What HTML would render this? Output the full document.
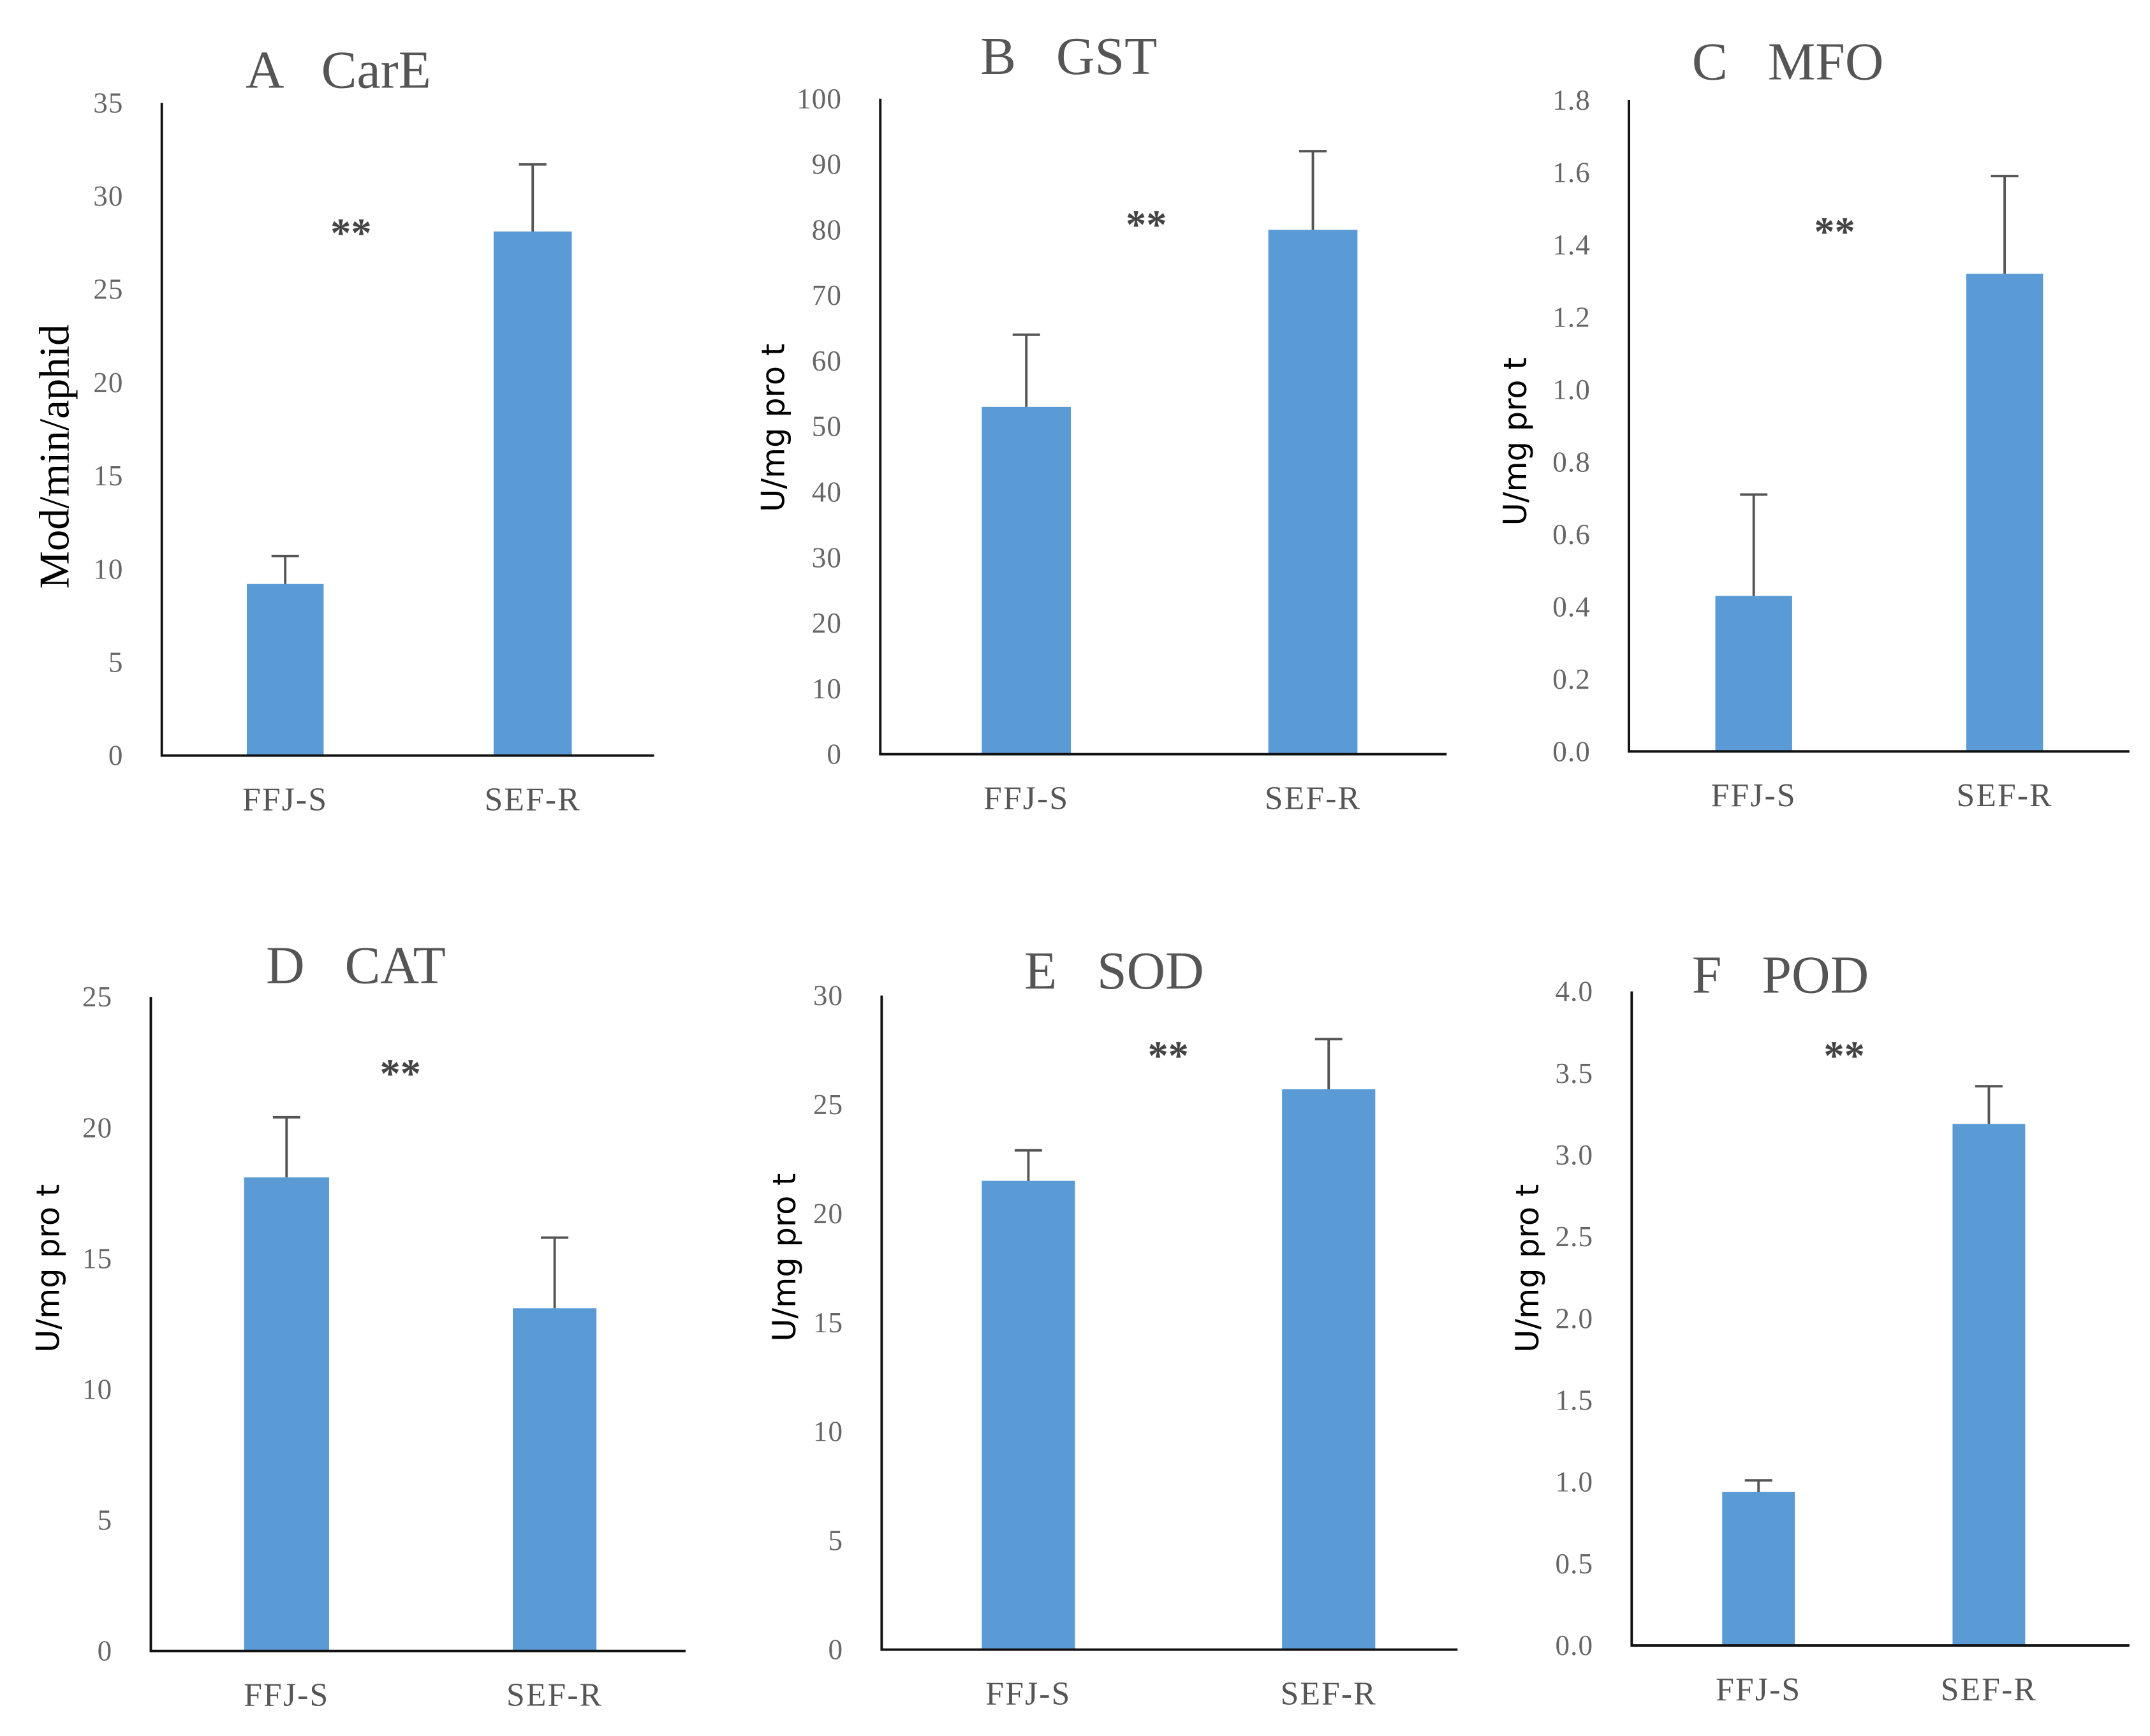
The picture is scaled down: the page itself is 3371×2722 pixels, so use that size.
<!DOCTYPE html>
<html><head><meta charset="utf-8"><style>
html,body{margin:0;padding:0;background:#fff;}
svg{display:block;}
text{white-space:pre;}
</style></head><body>
<svg id="fig" width="3371" height="2722" viewBox="0 0 1568 1266" preserveAspectRatio="none" xmlns="http://www.w3.org/2000/svg"></svg>
<script>
const categories = ["FFJ-S", "SEF-R"];
const titles = ["A   CarE", "B   GST", "C   MFO", "D   CAT", "E   SOD", "F   POD"];
const yLabels = ["Mod/min/aphid", "U/mg pro t", "U/mg pro t", "U/mg pro t", "U/mg pro t", "U/mg pro t"];
const yMaxes = [35, 100, 1.8, 25, 30, 4.0];
const yStepsArr = [5, 10, 0.2, 5, 5, 0.5];
const tickDecimals = [0, 0, 1, 0, 0, 1];
const valuesA = [9.2, 28.1];
const errorsA = [10.7, 31.7];
const valuesB = [53, 80];
const errorsB = [64, 92];
const valuesC = [0.43, 1.32];
const errorsC = [0.71, 1.59];
const valuesD = [18.1, 13.1];
const errorsD = [20.4, 15.8];
const valuesE = [21.5, 25.7];
const errorsE = [22.9, 28.0];
const valuesF = [0.94, 3.19];
const errorsF = [1.01, 3.42];
const sigMarks = ["**", "**", "**", "**", "**", "**"];

const allValues = [valuesA, valuesB, valuesC, valuesD, valuesE, valuesF];
const allErrors = [errorsA, errorsB, errorsC, errorsD, errorsE, errorsF];

const layouts = [
  {ax:118, top:75, bot:551, right:477, bars:[[180,236],[360,417]], tx:179, ty:64, sx:256, sy:180, lx:50, ly:333, serifLabel:true},
  {ax:642, top:72, bot:550, right:1055, bars:[[716,781],[925,990]], tx:715, ty:54, sx:836, sy:174, lx:572, ly:312},
  {ax:1188, top:73, bot:548, right:1553, bars:[[1251,1307],[1434,1490]], tx:1234, ty:58, sx:1338, sy:179, lx:1113, ly:322},
  {ax:110, top:727, bot:1204, right:500, bars:[[178,240],[374,435]], tx:194, ty:717, sx:292, sy:793, lx:43, ly:925},
  {ax:643, top:726, bot:1203, right:1063, bars:[[716,784],[935,1003]], tx:747, ty:721, sx:852, sy:780, lx:580, ly:917},
  {ax:1190, top:723, bot:1200, right:1553, bars:[[1256,1309],[1424,1477]], tx:1234, ty:724, sx:1345, sy:780, lx:1122, ly:925}
];
const NS = "http://www.w3.org/2000/svg";
const svg = document.getElementById("fig");
function mk(tag, attrs, parent){
  const e = document.createElementNS(NS, tag);
  for (const k in attrs) e.setAttribute(k, attrs[k]);
  parent.appendChild(e);
  return e;
}
const panelNames = ["a","b","c","d","e","f"];
for (let p = 0; p < 6; p++) {
  const L = layouts[p];
  const g = mk("g", {}, svg);
  
  
  const yScale = v => L.bot - (v / yMaxes[p]) * (L.bot - L.top);
  const t = mk("text", {x:L.tx, y:L.ty, "font-family":"Liberation Serif, serif", "font-size":39, fill:"#555"}, g);
  t.textContent = titles[p];
  
  
  const nTicks = Math.round(yMaxes[p] / yStepsArr[p]);
  for (let i = 0; i <= nTicks; i++) {
    const v = i * yStepsArr[p];
    const tl = mk("text", {x:L.ax - 28, y:yScale(v) + 7, "text-anchor":"end", "font-family":"Liberation Serif, serif", "font-size":21, fill:"#666", "letter-spacing":"0.5"}, g);
    tl.textContent = v.toFixed(tickDecimals[p]);
    
    
  }
  for (let c = 0; c < categories.length; c++) {
    const [x0, x1] = L.bars[c];
    const cx = (x0 + x1) / 2;
    const b = mk("rect", {x:x0, y:yScale(allValues[p][c]), width:x1 - x0, height:L.bot - yScale(allValues[p][c]), fill:"#5B9BD5"}, g);
    
    
    const eb = mk("path", {d:`M${cx},${yScale(allValues[p][c])}V${yScale(allErrors[p][c])}M${cx-10},${yScale(allErrors[p][c])}H${cx+10}`, stroke:"#555", "stroke-width":1.8, fill:"none"}, g);
    
    
    const cl = mk("text", {x:cx, y:L.bot + 40, "text-anchor":"middle", "font-family":"Liberation Serif, serif", "font-size":24, fill:"#555", "letter-spacing":"1"}, g);
    cl.textContent = categories[c];
    
    
  }
  const axes = mk("path", {d:`M${L.ax},${L.top}V${L.bot}H${L.right}`, stroke:"#111", "stroke-width":1.8, fill:"none"}, g);
  
  
  const s = mk("text", {x:L.sx, y:L.sy, "text-anchor":"middle", "font-family":"Liberation Serif, serif", "font-size":30, "font-weight":"bold", fill:"#444"}, g);
  s.textContent = sigMarks[p];
  
  
  const yl = mk("text", {x:L.lx, y:L.ly, "text-anchor":"middle", transform:`rotate(-90 ${L.lx} ${L.ly})`,
    "font-family": L.serifLabel ? "Liberation Serif, serif" : "DejaVu Sans, Liberation Sans, sans-serif",
    "font-size": L.serifLabel ? 31 : 23, fill:"#000"}, g);
  yl.textContent = yLabels[p];
  
  
}
</script>
</body></html>
